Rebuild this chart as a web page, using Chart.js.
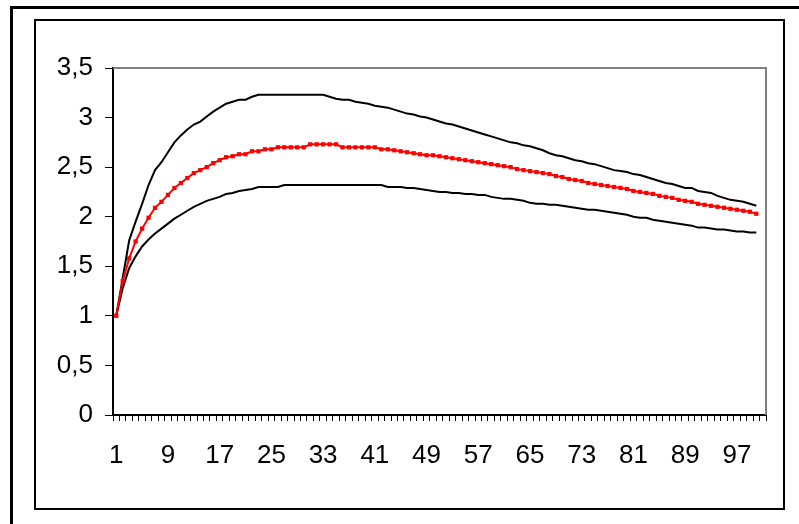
<!DOCTYPE html>
<html>
<head>
<meta charset="utf-8">
<script src="https://cdn.jsdelivr.net/npm/chart.js@4.4.1/dist/chart.umd.min.js"></script>
<style>
    body { margin: 0; background: #FFFFFF; }
    #outer { position: absolute; left: 10px; top: 6px; width: 900px; height: 700px; border-top: 3px solid #000; border-left: 3px solid #000; }
    #inner { position: absolute; left: 34px; top: 19px; width: 747px; height: 487px; border: 2px solid #000; }
    #chart { position: absolute; left: 0; top: 0; }
</style>
</head>
<body>
<div id="outer"></div>
<div id="inner"></div>
<canvas id="chart" width="799" height="524"></canvas>
<script>
// categories 1..101 (last one empty)
const categories = [];
for(let i = 1; i <= 101; i++) categories.push(String(i));

const upperValues = [
    1.00, 1.38, 1.76, 1.95, 2.13, 2.32, 2.47, 2.55, 2.65, 2.75,
    2.82, 2.88, 2.93, 2.96, 3.01, 3.06, 3.10, 3.14, 3.16, 3.18,
    3.18, 3.21, 3.23, 3.23, 3.23, 3.23, 3.23, 3.23, 3.23, 3.23,
    3.23, 3.23, 3.23, 3.21, 3.19, 3.18, 3.18, 3.16, 3.15, 3.14,
    3.12, 3.11, 3.10, 3.08, 3.06, 3.04, 3.03, 3.01, 3.00, 2.98,
    2.96, 2.94, 2.93, 2.91, 2.89, 2.87, 2.85, 2.83, 2.81, 2.79,
    2.77, 2.75, 2.74, 2.72, 2.71, 2.69, 2.67, 2.64, 2.62, 2.61,
    2.59, 2.57, 2.56, 2.54, 2.53, 2.51, 2.49, 2.47, 2.46, 2.45,
    2.43, 2.42, 2.40, 2.38, 2.36, 2.34, 2.33, 2.31, 2.29, 2.29,
    2.26, 2.25, 2.24, 2.21, 2.19, 2.17, 2.16, 2.15, 2.13, 2.11
];
const middleValues = [
    1.00, 1.35, 1.58, 1.75, 1.88, 1.99, 2.09, 2.15, 2.22, 2.29,
    2.34, 2.39, 2.44, 2.47, 2.50, 2.54, 2.57, 2.60, 2.61, 2.63,
    2.63, 2.66, 2.66, 2.68, 2.68, 2.70, 2.70, 2.70, 2.70, 2.70,
    2.73, 2.73, 2.73, 2.73, 2.73, 2.70, 2.70, 2.70, 2.70, 2.70,
    2.70, 2.68, 2.68, 2.67, 2.66, 2.65, 2.64, 2.63, 2.62, 2.62,
    2.61, 2.60, 2.59, 2.58, 2.57, 2.56, 2.55, 2.54, 2.53, 2.52,
    2.51, 2.50, 2.48, 2.47, 2.46, 2.45, 2.44, 2.43, 2.41, 2.40,
    2.38, 2.37, 2.36, 2.34, 2.33, 2.32, 2.31, 2.30, 2.29, 2.28,
    2.26, 2.25, 2.24, 2.23, 2.21, 2.20, 2.19, 2.17, 2.16, 2.15,
    2.13, 2.12, 2.11, 2.10, 2.09, 2.08, 2.07, 2.06, 2.05, 2.03
];
const lowerValues = [
    1.00, 1.28, 1.48, 1.60, 1.70, 1.77, 1.83, 1.88, 1.93, 1.98,
    2.02, 2.06, 2.10, 2.13, 2.16, 2.18, 2.20, 2.23, 2.24, 2.26,
    2.27, 2.28, 2.30, 2.30, 2.30, 2.30, 2.32, 2.32, 2.32, 2.32,
    2.32, 2.32, 2.32, 2.32, 2.32, 2.32, 2.32, 2.32, 2.32, 2.32,
    2.32, 2.32, 2.30, 2.30, 2.30, 2.29, 2.29, 2.28, 2.27, 2.26,
    2.25, 2.25, 2.24, 2.24, 2.23, 2.23, 2.22, 2.22, 2.20, 2.19,
    2.18, 2.18, 2.17, 2.16, 2.14, 2.13, 2.13, 2.12, 2.12, 2.11,
    2.10, 2.09, 2.08, 2.07, 2.07, 2.06, 2.05, 2.04, 2.03, 2.02,
    2.00, 1.99, 1.99, 1.97, 1.96, 1.95, 1.94, 1.93, 1.92, 1.91,
    1.89, 1.89, 1.88, 1.87, 1.87, 1.86, 1.85, 1.85, 1.84, 1.84
];
const yTicks = [0, 0.5, 1, 1.5, 2, 2.5, 3, 3.5];

Chart.defaults.font.family = "'Liberation Sans', Arial, sans-serif";
Chart.defaults.font.size = 26;
Chart.defaults.color = '#000000';

// grey frame on top and right of the plot area, like Excel
const plotFrame = {
    id: 'plotFrame',
    beforeDatasetsDraw(chart) {
        const a = chart.chartArea;
        const ctx = chart.ctx;
        ctx.save();
        ctx.strokeStyle = '#808080';
        ctx.lineWidth = 2;
        ctx.beginPath();
        ctx.moveTo(a.left, a.top);
        ctx.lineTo(a.right, a.top);
        ctx.lineTo(a.right, a.bottom);
        ctx.stroke();
        ctx.restore();
    }
};

const chart = new Chart(document.getElementById('chart'), {
    type: 'line',
    data: {
        labels: categories,
        datasets: [
            {
                data: middleValues,
                borderColor: '#FF0000',
                backgroundColor: '#FF0000',
                borderWidth: 2,
                pointStyle: 'rect',
                pointRadius: 3,
                pointBorderWidth: 0,
                tension: 0
            },
            {
                data: upperValues,
                borderColor: '#000000',
                borderWidth: 2,
                pointRadius: 0,
                tension: 0
            },
            {
                data: lowerValues,
                borderColor: '#000000',
                borderWidth: 2,
                pointRadius: 0,
                tension: 0
            }
        ]
    },
    options: {
        responsive: false,
        devicePixelRatio: 1,
        animation: false,
        layout: { padding: { left: 0, top: 68, right: 33, bottom: 0 } },
        plugins: { legend: { display: false }, tooltip: { enabled: false } },
        scales: {
            x: {
                offset: true,
                grid: { offset: true, drawOnChartArea: false, drawTicks: true, tickLength: 6, color: '#000000', lineWidth: 1 },
                border: { display: true, color: '#000000', width: 2 },
                ticks: {
                    autoSkip: false,
                    maxRotation: 0,
                    padding: 19,
                    callback: (v, i) => i % 8 === 0 ? categories[i] : ''
                },
                afterFit: (scale) => { scale.height = 109; }
            },
            y: {
                min: 0,
                max: 3.5,
                afterBuildTicks: (scale) => { scale.ticks = yTicks.map(v => ({value: v})); },
                grid: { drawOnChartArea: false, drawTicks: true, tickLength: 8, color: '#000000', lineWidth: 1 },
                border: { display: true, color: '#000000', width: 2 },
                ticks: {
                    padding: 12,
                    callback: (v) => String(v).replace('.', ',')
                },
                afterFit: (scale) => { scale.width = 113; }
            }
        }
    },
    plugins: [plotFrame]
});
</script>
</body>
</html>
